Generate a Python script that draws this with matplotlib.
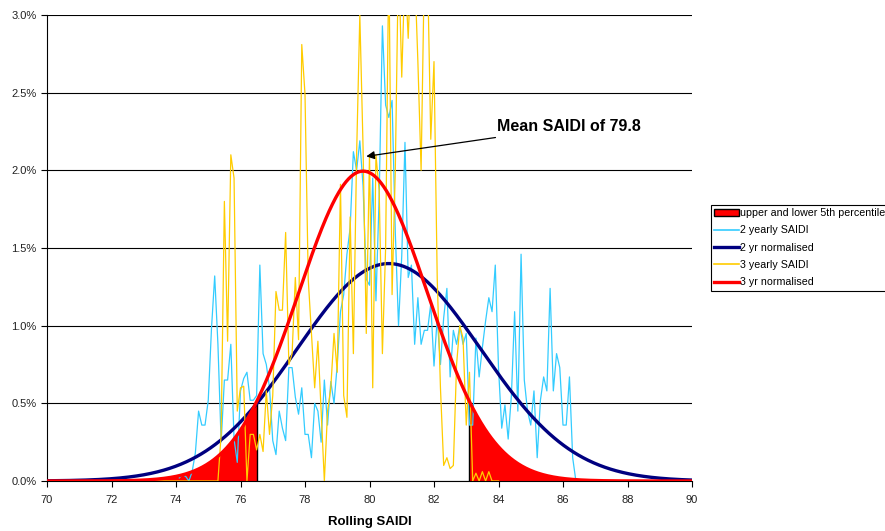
import numpy as np
import matplotlib
matplotlib.use('Agg')
import matplotlib.pyplot as plt
from matplotlib.patches import Patch
from matplotlib.lines import Line2D
from matplotlib.ticker import FuncFormatter

plt.rcParams['font.family'] = ['Liberation Sans', 'DejaVu Sans']

# 2 yearly SAIDI, % frequency at 0.1 steps starting at 74.1
saidi_2yr_start = 74.1
saidi_2yr = [
    0.02, 0.04, 0.03, 0.00, 0.06, 0.18, 0.45, 0.36, 0.36, 0.52,   # 74.1 - 75.0
    0.98, 1.32, 0.88, 0.25, 0.65, 0.65, 0.88, 0.27, 0.12, 0.58,   # 75.1 - 76.0
    0.66, 0.70, 0.52, 0.52, 0.55, 1.39, 0.82, 0.75, 0.60, 0.26,   # 76.1 - 77.0
    0.17, 0.45, 0.34, 0.26, 0.73, 0.73, 0.54, 0.43, 0.60, 0.30,   # 77.1 - 78.0
    0.30, 0.15, 0.50, 0.45, 0.25, 0.65, 0.36, 0.64, 0.50, 0.75,   # 78.1 - 79.0
    1.09, 1.20, 1.46, 1.63, 2.12, 2.00, 2.19, 1.90, 1.30, 1.26,   # 79.1 - 80.0
    1.95, 1.16, 1.83, 2.93, 2.42, 2.34, 2.45, 1.60, 1.00, 1.45,   # 80.1 - 81.0
    2.18, 1.31, 1.39, 0.88, 1.18, 0.88, 0.97, 0.97, 1.14, 0.74,   # 81.1 - 82.0
    1.05, 0.75, 1.05, 1.24, 0.67, 0.97, 0.88, 1.00, 0.88, 0.95,   # 82.1 - 83.0
    0.36, 0.36, 0.92, 0.67, 0.86, 1.03, 1.18, 1.09, 1.39, 0.73,   # 83.1 - 84.0
    0.34, 0.49, 0.27, 0.55, 1.09, 0.45, 1.46, 0.65, 0.45, 0.36,   # 84.1 - 85.0
    0.58, 0.15, 0.52, 0.67, 0.58, 1.24, 0.58, 0.82, 0.73, 0.36,   # 85.1 - 86.0
    0.36, 0.67, 0.15, 0.00,                                       # 86.1 - 86.4
]

# 3 yearly SAIDI, % frequency at 0.1 steps starting at 72.5
saidi_3yr_start = 72.5
saidi_3yr = [
    0.00, 0.00, 0.00, 0.00, 0.00, 0.00, 0.00, 0.00, 0.00, 0.00,   # 72.5 - 73.4
    0.00, 0.00, 0.00, 0.00, 0.00, 0.00, 0.00, 0.00, 0.00, 0.00,   # 73.5 - 74.4
    0.00, 0.00, 0.00, 0.00, 0.00, 0.00, 0.00, 0.00, 0.00, 0.30,   # 74.5 - 75.4
    1.80, 0.90, 2.10, 1.95, 0.45, 0.60, 0.61, 0.00, 0.30, 0.30,   # 75.5 - 76.4
    0.20, 0.30, 0.19, 0.58, 0.30, 0.55, 1.22, 1.10, 1.10, 1.60,   # 76.5 - 77.4
    0.75, 0.82, 1.31, 0.91, 2.81, 2.49, 1.30, 0.95, 0.60, 0.90,   # 77.5 - 78.4
    0.45, 0.00, 0.45, 0.60, 0.95, 0.70, 1.91, 0.55, 0.41, 1.70,   # 78.5 - 79.4
    0.82, 2.10, 3.00, 2.15, 0.95, 2.10, 0.60, 2.10, 1.87, 0.82,   # 79.5 - 80.4
    1.50, 3.40, 1.20, 2.00, 3.40, 2.60, 3.30, 2.85, 3.40, 3.30,   # 80.5 - 81.4
    2.70, 2.00, 3.30, 3.30, 2.20, 2.70, 1.30, 0.60, 0.10, 0.15,   # 81.5 - 82.4
    0.08, 0.10, 0.75, 1.00, 0.92, 0.36, 0.70, 0.00, 0.05, 0.00,   # 82.5 - 83.4
    0.06, 0.00, 0.06, 0.00, 0.00, 0.00,                           # 83.5 - 84.0
]

# normal fits (mean, standard deviation)
mean_2yr, sd_2yr = 80.6, 2.85
mean_3yr, sd_3yr = 79.8, 2.0
bin_width = 0.1
lower_5th, upper_5th = 76.5, 83.1

x_2yr = saidi_2yr_start + bin_width * np.arange(len(saidi_2yr))
x_3yr = saidi_3yr_start + bin_width * np.arange(len(saidi_3yr))

xs = np.linspace(70, 90, 801)


def normal_pct(x, mu, sd):
    return 100 * bin_width * np.exp(-0.5 * ((x - mu) / sd) ** 2) / (sd * np.sqrt(2 * np.pi))


norm_2yr = normal_pct(xs, mean_2yr, sd_2yr)
norm_3yr = normal_pct(xs, mean_3yr, sd_3yr)

cyan = '#33CCFF'
navy = '#000080'
gold = '#FFCC00'
red = '#FF0000'

fig = plt.figure(figsize=(8.85, 5.31), dpi=100)
ax = fig.add_axes([47 / 885, 50 / 531, 645 / 885, 466 / 531])

# red tails
lo = xs <= lower_5th
hi = xs >= upper_5th
ax.fill_between(xs[lo], 0, norm_3yr[lo], color=red, lw=0, zorder=2)
ax.fill_between(xs[hi], 0, norm_3yr[hi], color=red, lw=0, zorder=2)
ax.vlines([lower_5th, upper_5th], 0,
          normal_pct(np.array([lower_5th, upper_5th]), mean_3yr, sd_3yr),
          color='black', lw=1.0, zorder=2.5)

ax.plot(x_2yr, saidi_2yr, color=cyan, lw=0.9, zorder=3)
ax.plot(xs, norm_2yr, color=navy, lw=2.4, zorder=4)
ax.plot(x_3yr, saidi_3yr, color=gold, lw=0.9, zorder=5)
ax.plot(xs, norm_3yr, color=red, lw=2.4, zorder=6)

ax.set_xlim(70, 90)
ax.set_ylim(0, 3.0)
ax.set_xticks(np.arange(70, 91, 2))
ax.set_yticks(np.arange(0, 3.01, 0.5))
ax.yaxis.set_major_formatter(FuncFormatter(lambda v, p: f'{v:.1f}%'))
ax.tick_params(labelsize=8, length=4, width=0.8, colors='black', labelcolor='#222222')
ax.tick_params(axis='x', pad=6)
ax.grid(axis='y', color='black', lw=0.8)
ax.set_axisbelow(True)
for side in ['top', 'right']:
    ax.spines[side].set_visible(False)
ax.spines['left'].set_color('black')
ax.spines['bottom'].set_color('black')
ax.set_xlabel('Rolling SAIDI', fontsize=9.5, fontweight='bold', labelpad=8)

ax.annotate('Mean SAIDI of 79.8', xy=(79.9, 2.09), xytext=(83.95, 2.28),
            fontsize=11.5, fontweight='bold', va='center', ha='left',
            arrowprops=dict(arrowstyle='-|>', color='black', lw=0.9,
                            mutation_scale=12, shrinkA=2, shrinkB=0),
            zorder=10)

handles = [
    Patch(facecolor=red, edgecolor='black', lw=1.0),
    Line2D([], [], color=cyan, lw=1.2),
    Line2D([], [], color=navy, lw=2.4),
    Line2D([], [], color=gold, lw=1.2),
    Line2D([], [], color=red, lw=2.4),
]
labels = ['upper and lower 5th percentile', '2 yearly SAIDI', '2 yr normalised',
          '3 yearly SAIDI', '3 yr normalised']
leg = fig.legend(handles, labels, loc='upper left', bbox_to_anchor=(711 / 885, 1 - 205 / 531),
                 fontsize=7.7, frameon=True, fancybox=False, framealpha=1,
                 edgecolor='black', handlelength=2.3, handletextpad=0.1,
                 labelspacing=0.68, borderpad=0.3, borderaxespad=0)
leg.get_frame().set_linewidth(0.8)

fig.savefig('out.png', dpi=100)
